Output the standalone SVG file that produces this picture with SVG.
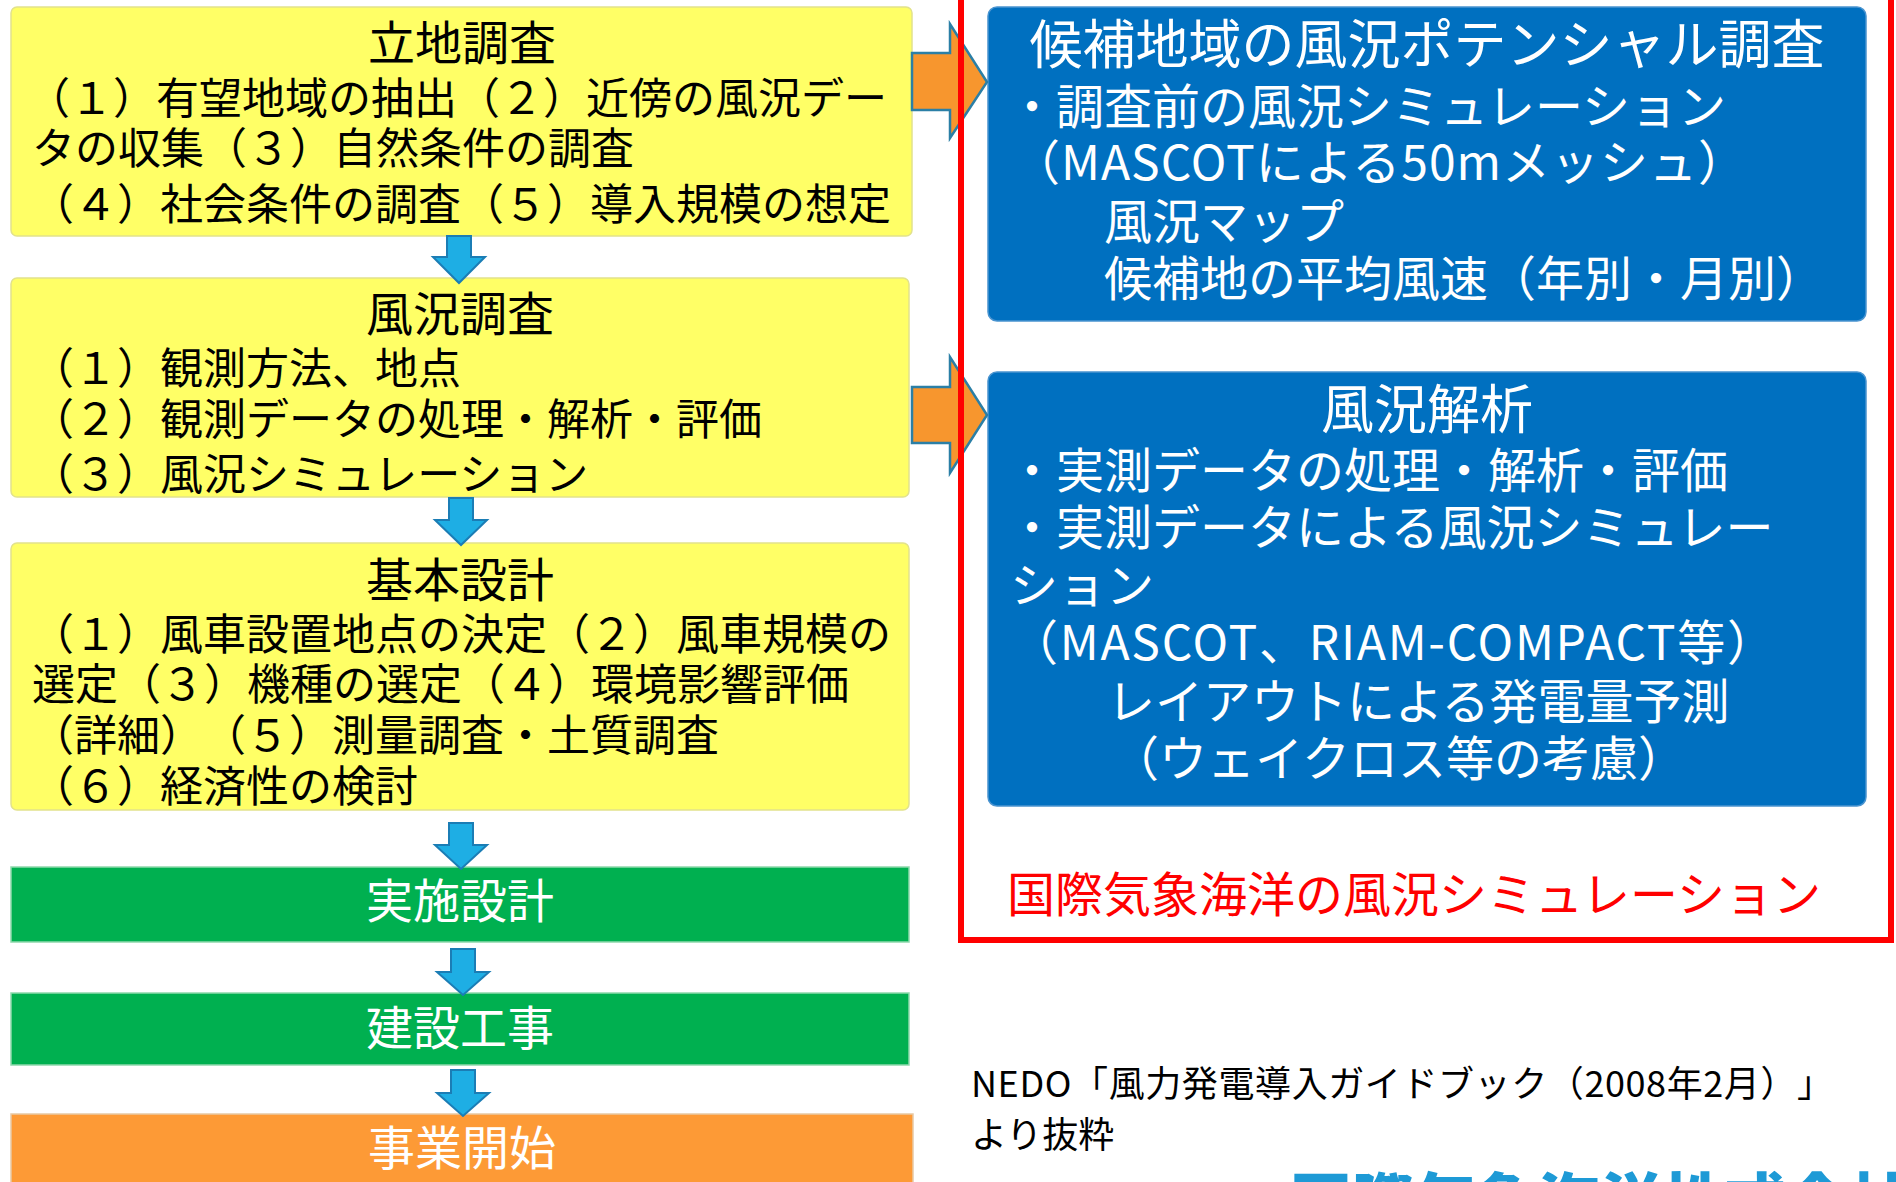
<svg xmlns="http://www.w3.org/2000/svg" width="1896" height="1182" viewBox="0 0 1896 1182">
<style>
text{font-family:"Noto Sans CJK JP","Noto Sans",sans-serif;text-spacing-trim:space-all;}
.yb{fill:#ffff66;stroke:#e2e28c;stroke-width:1.5;}
.gb{fill:#00b050;stroke:#8ed9ac;stroke-width:1.5;}
.ob{fill:#fd9a36;stroke:#e8c9a4;stroke-width:1.5;}
.bb{fill:#0070c0;stroke:#4a94d0;stroke-width:1.5;}
.tt{font-size:47px;fill:#000;text-anchor:middle;}
.tx{font-size:43px;fill:#000;}
.wt{font-size:47px;fill:#fff;text-anchor:middle;}
.bt{font-size:53px;fill:#fff;text-anchor:middle;}
.bx{font-size:48px;fill:#fff;}
.da{fill:#1eaee4;stroke:#1b7db5;stroke-width:2;stroke-linejoin:miter;}
.ra{fill:#f7962e;stroke:#2b7fa6;stroke-width:2.5;stroke-linejoin:miter;}
</style>

<g id="n1">
<rect class="yb" x="11" y="7" width="901" height="229" rx="6"/>
<text class="tt" x="462" y="60">立地調査</text>
<text class="tx" x="27" y="114">（１）有望地域の抽出（２）近傍の風況デー</text>
<text class="tx" x="32" y="164">タの収集（３）自然条件の調査</text>
<text class="tx" x="31" y="220">（４）社会条件の調査（５）導入規模の想定</text>
</g>

<g id="n2">
<rect class="yb" x="11" y="278" width="898" height="219" rx="6"/>
<text class="tt" x="460" y="331">風況調査</text>
<text class="tx" x="31" y="384">（１）観測方法、地点</text>
<text class="tx" x="31" y="435">（２）観測データの処理・解析・評価</text>
<text class="tx" x="31" y="490">（３）風況シミュレーション</text>
</g>

<g id="n3">
<rect class="yb" x="11" y="543" width="898" height="267" rx="6"/>
<text class="tt" x="460" y="597">基本設計</text>
<text class="tx" x="31" y="650">（１）風車設置地点の決定（２）風車規模の</text>
<text class="tx" x="32" y="700">選定（３）機種の選定（４）環境影響評価</text>
<text class="tx" x="31" y="751">（詳細）<tspan x="203">（５）測量調査・土質調査</tspan></text>
<text class="tx" x="31" y="802">（６）経済性の検討</text>
</g>

<g id="n4">
<rect class="gb" x="11" y="867" width="898" height="75"/>
<text class="wt" x="460" y="918">実施設計</text>
</g>

<g id="n5">
<rect class="gb" x="11" y="993" width="898" height="72"/>
<text class="wt" x="460" y="1045">建設工事</text>
</g>

<g id="n6">
<rect class="ob" x="11" y="1114" width="902" height="90"/>
<text class="wt" x="462" y="1165">事業開始</text>
</g>

<g id="n7">
<rect class="bb" x="988" y="7" width="878" height="314" rx="9"/>
<text class="bt" x="1427" y="64">候補地域の風況ポテンシャル調査</text>
<text class="bx" x="1008" y="124">・調査前の風況シミュレーション</text>
<text class="bx" x="1012" y="180" textLength="734">（MASCOTによる50mメッシュ）</text>
<text class="bx" x="1104" y="239">風況マップ</text>
<text class="bx" x="1104" y="296">候補地の平均風速（年別・月別）</text>
</g>

<g id="n8">
<rect class="bb" x="988" y="372" width="878" height="434" rx="9"/>
<text class="bt" x="1427" y="429">風況解析</text>
<text class="bx" x="1008" y="488">・実測データの処理・解析・評価</text>
<text class="bx" x="1008" y="545">・実測データによる風況シミュレー</text>
<text class="bx" x="1010" y="603">ション</text>
<text class="bx" x="1010" y="660" textLength="765">（MASCOT、RIAM-COMPACT等）</text>
<text class="bx" x="1107" y="719">レイアウトによる発電量予測</text>
<text class="bx" x="1111" y="776">（ウェイクロス等の考慮）</text>
</g>

<g id="connectors">
<polygon class="da" points="447,236 471,236 471,257 485,257 459,283 433,257 447,257"/>
<polygon class="da" points="449,498 473,498 473,520 487,520 461,545 435,520 449,520"/>
<polygon class="da" points="449,823 473,823 473,845 487,845 461,869 435,845 449,845"/>
<polygon class="da" points="451,949 475,949 475,972 489,972 463,995 437,972 451,972"/>
<polygon class="da" points="451,1070 475,1070 475,1093 489,1093 463,1116 437,1093 451,1093"/>
<polygon class="ra" points="912,53 950,53 950,24 987,82 950,138 950,110 912,110"/>
<polygon class="ra" points="912,387 950,387 950,357 987,415 950,473 950,443 912,443"/>
</g>

<g id="frame">
<rect x="961" y="-10" width="930" height="950" fill="none" stroke="#ff0000" stroke-width="6"/>
<text x="1007" y="912" font-size="48" fill="#ff0000">国際気象海洋の風況シミュレーション</text>
</g>

<g id="source">
<text x="971" y="1097" font-size="36" fill="#000" textLength="862">NEDO「風力発電導入ガイドブック（2008年2月）」</text>
<text x="971" y="1148" font-size="36" fill="#000">より抜粋</text>
</g>

<g id="logo">
<text x="1290" y="1225" font-size="62" font-weight="900" fill="#1e9ad6">国際気象海洋株式会社</text>
</g>
</svg>
